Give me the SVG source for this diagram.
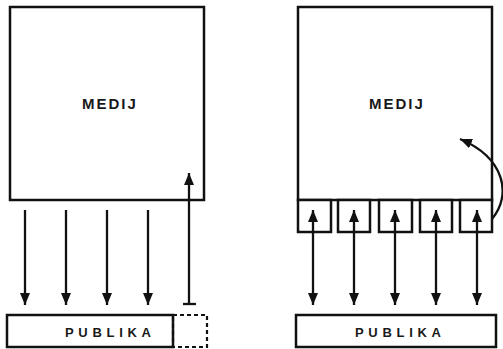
<svg xmlns="http://www.w3.org/2000/svg" width="503" height="349" viewBox="0 0 503 349">
  <defs>
    <marker id="head" markerUnits="userSpaceOnUse" markerWidth="14" markerHeight="14" viewBox="0 0 14 14" refX="12" refY="7" orient="auto-start-reverse">
      <path d="M0,2 L12,7 L0,12 Z" fill="#111"/>
    </marker>
  </defs>
  <style>
    .box { fill: #fff; stroke: #111; stroke-width: 2.5; }
    .dash { fill: none; stroke: #111; stroke-width: 2.2; stroke-dasharray: 4 3; }
    .link { fill: none; stroke: #111; stroke-width: 2.3; }
    .label { font-family: "Liberation Sans", Arial, sans-serif; fill: #1a1a1a; font-weight: bold; }
    .medij { font-size: 15px; letter-spacing: 2px; }
    .publika { font-size: 13px; letter-spacing: 4.7px; }
  </style>

  <!-- left model: one-way broadcast -->
  <g id="medij-left">
    <rect class="box" x="10" y="7" width="194" height="193"/>
    <text class="label medij" x="82" y="109">MEDIJ</text>
  </g>
  <g id="publika-left">
    <rect class="box" x="7" y="315" width="166" height="32"/>
    <path class="dash" d="M173,315 H207 V347 H173 V315"/>
    <text class="label publika" x="65" y="337">PUBLIKA</text>
  </g>

  <!-- right model: two-way channels -->
  <g id="medij-right">
    <rect class="box" x="298" y="7" width="194" height="193"/>
    <text class="label medij" x="369" y="109">MEDIJ</text>
  </g>
  <g id="channels">
    <rect class="box" x="298" y="200" width="33" height="32"/>
    <rect class="box" x="338" y="200" width="32" height="32"/>
    <rect class="box" x="379" y="200" width="33" height="32"/>
    <rect class="box" x="420" y="200" width="32" height="32"/>
    <rect class="box" x="460" y="200" width="32" height="32"/>
  </g>
  <g id="publika-right">
    <rect class="box" x="296" y="315" width="200" height="32"/>
    <text class="label publika" x="355" y="337">PUBLIKA</text>
  </g>

  <g id="connectors">
    <!-- left: downward flows -->
    <line class="link" x1="25" y1="210" x2="25" y2="305" marker-end="url(#head)"/>
    <line class="link" x1="66" y1="210" x2="66" y2="305" marker-end="url(#head)"/>
    <line class="link" x1="107" y1="210" x2="107" y2="305" marker-end="url(#head)"/>
    <line class="link" x1="148" y1="210" x2="148" y2="305" marker-end="url(#head)"/>
    <!-- left: feedback line with tee -->
    <line class="link" x1="189" y1="304" x2="189" y2="173" marker-end="url(#head)"/>
    <line class="link" x1="183" y1="304" x2="196" y2="304"/>
    <!-- right: two-way flows -->
    <line class="link" x1="313" y1="210" x2="313" y2="305" marker-start="url(#head)" marker-end="url(#head)"/>
    <line class="link" x1="354" y1="210" x2="354" y2="305" marker-start="url(#head)" marker-end="url(#head)"/>
    <line class="link" x1="395" y1="210" x2="395" y2="305" marker-start="url(#head)" marker-end="url(#head)"/>
    <line class="link" x1="436" y1="210" x2="436" y2="305" marker-start="url(#head)" marker-end="url(#head)"/>
    <line class="link" x1="477" y1="210" x2="477" y2="305" marker-start="url(#head)" marker-end="url(#head)"/>
    <!-- right: return curve into the medium -->
    <path class="link" d="M492,219 C512,195 505,158 460,139" marker-end="url(#head)"/>
  </g>
</svg>
